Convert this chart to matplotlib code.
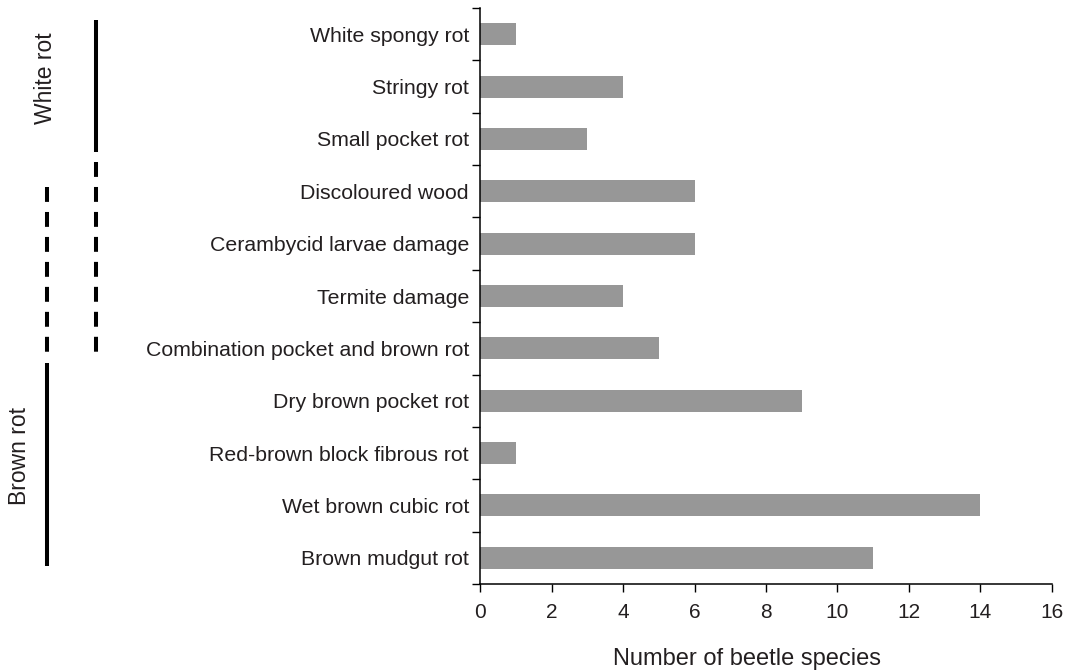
import matplotlib
matplotlib.use("Agg")
import matplotlib.pyplot as plt
import matplotlib.transforms as mtransforms
import numpy as np

plt.rcParams['font.family'] = ['Liberation Sans', 'DejaVu Sans']

# damage / decay types, top to bottom
damage_types = [
    "White spongy rot",
    "Stringy rot",
    "Small pocket rot",
    "Discoloured wood",
    "Cerambycid larvae damage",
    "Termite damage",
    "Combination pocket and brown rot",
    "Dry brown pocket rot",
    "Red-brown block fibrous rot",
    "Wet brown cubic rot",
    "Brown mudgut rot",
]
beetle_species = [1, 4, 3, 6, 6, 4, 5, 9, 1, 14, 11]

# grouping brackets: (x in figure fraction, y start, y end, style)
group_lines = [
    (0.0896, -0.27, 2.25, "solid"),
    (0.0896, 2.44, 6.07, "dashed"),
    (0.0438, 2.92, 6.07, "dashed"),
    (0.0438, 6.28, 10.16, "solid"),
]
group_labels = [("White rot", 0.042, 0.84), ("Brown rot", 0.018, 8.06)]

txt = '#231f20'
bar_color = '#979797'

fig = plt.figure(figsize=(10.72, 6.72), dpi=100)
ax = fig.add_axes([0.4478, 0.131, 0.9813 - 0.4478, 0.988 - 0.131])

pos = np.arange(len(damage_types))
ax.barh(pos, beetle_species, height=0.42, color=bar_color, zorder=2)

ax.set_xlim(0, 16)
ax.set_ylim(len(damage_types) - 0.5, -0.5)
ax.set_xticks(np.arange(0, 17, 2))
ax.set_yticks(np.arange(-0.5, len(damage_types), 1.0))
ax.set_yticklabels([])
ax.set_yticks(pos, minor=True)
ax.set_yticklabels(damage_types, minor=True)

for s in ['top', 'right']:
    ax.spines[s].set_visible(False)
for s in ['left', 'bottom']:
    ax.spines[s].set_linewidth(1.1)
    ax.spines[s].set_color('black')

ax.tick_params(axis='both', which='major', direction='out', length=5.5,
               width=1.0, color='black', labelsize=15, labelcolor=txt)
ax.tick_params(axis='x', pad=8)
ax.tick_params(axis='y', which='minor', length=0, pad=8,
               labelsize=15.3, labelcolor=txt)

ax.set_xlabel("Number of beetle species", fontsize=17, color=txt)
ax.xaxis.set_label_coords(0.467, -0.112)

trans = mtransforms.blended_transform_factory(fig.transFigure, ax.transData)
for x, y0, y1, style in group_lines:
    ls = (0, (3.7, 2.5)) if style == "dashed" else "-"
    ax.plot([x, x], [y0, y1], transform=trans, color='black', lw=2.9,
            linestyle=ls, solid_capstyle='butt', dash_capstyle='butt',
            clip_on=False)

for label, x, y in group_labels:
    ax.text(x, y, label, transform=trans, rotation=90, ha='center',
            va='center', fontsize=16.5, color=txt)

fig.savefig("out.png", dpi=100)
